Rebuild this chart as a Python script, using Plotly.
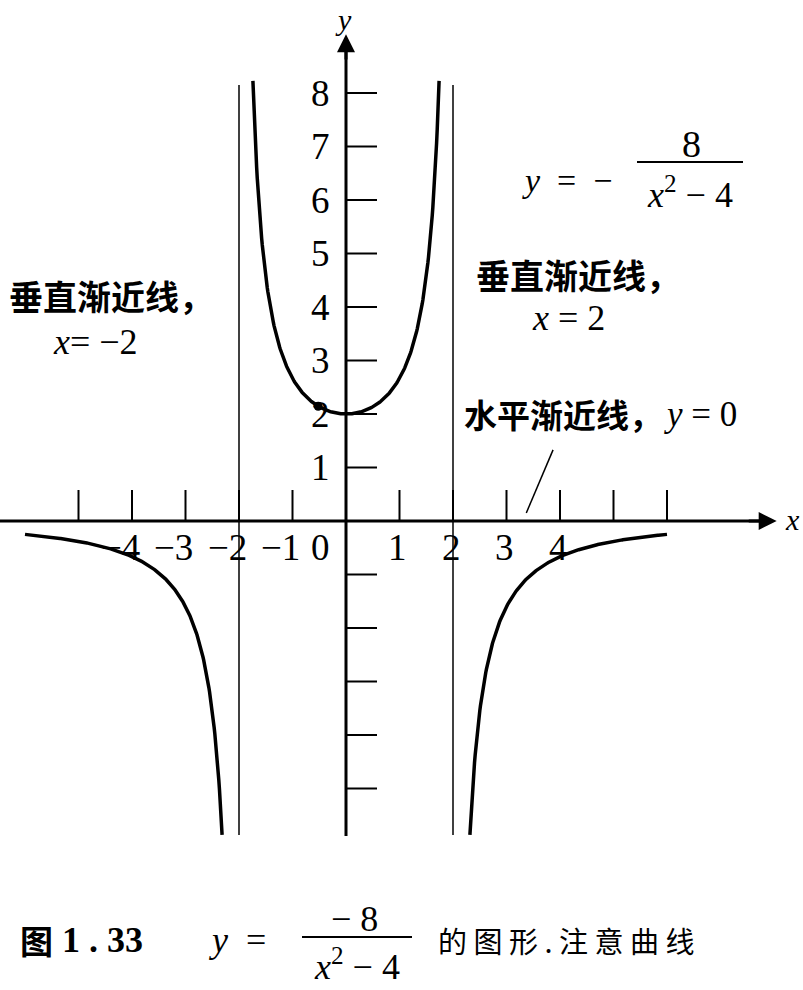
import numpy as np
import plotly.graph_objects as go

# ---- data ----
branch_left = [-6.0, -2.316]     # x-extent of left branch
branch_mid = [-1.74, 1.74]       # x-extent of middle branch
branch_right = [2.316, 6.0]      # x-extent of right branch
asymptotes_x = [-2, 2]
asym_y = [-5.87, 8.15]
x_ticks = [-5, -4, -3, -2, -1, 1, 2, 3, 4, 5, 6]
x_labels_vals = [-4, -3, -2, -1, 0, 1, 2, 3, 4]
x_labels_text = ["−4", "−3", "−2", "−1", "0", "1", "2", "3", "4"]
y_ticks = [-5, -4, -3, -2, -1, 1, 2, 3, 4, 5, 6, 7, 8]
y_labels_vals = [1, 2, 3, 4, 5, 6, 7, 8]
dot_x = [-0.52]

def f(x):
    return -8.0 / (x ** 2 - 4.0)

W, H = 803, 990
PX = 53.5
X0, Y0 = 346, 521
xr = [-X0 / PX, (W - X0) / PX]
yr = [-(H - Y0) / PX, Y0 / PX]

fig = go.Figure()
SERIF = "Liberation Serif"
CJK = "Noto Sans CJK SC"

# axes
fig.add_trace(go.Scatter(x=[xr[0], 7.9], y=[0, 0], mode="lines",
                         line=dict(color="black", width=3), hoverinfo="skip"))
fig.add_trace(go.Scatter(x=[0, 0], y=[-5.89, 9.0], mode="lines",
                         line=dict(color="black", width=3), hoverinfo="skip"))

# ticks
tl = 0.58
tx, ty = [], []
for v in x_ticks:
    tx += [v, v, None]
    ty += [0, tl, None]
fig.add_trace(go.Scatter(x=tx, y=ty, mode="lines",
                         line=dict(color="black", width=2), hoverinfo="skip"))
tx, ty = [], []
for v in y_ticks:
    tx += [0, tl, None]
    ty += [v, v, None]
fig.add_trace(go.Scatter(x=tx, y=ty, mode="lines",
                         line=dict(color="black", width=2), hoverinfo="skip"))

# asymptotes
for a in asymptotes_x:
    fig.add_trace(go.Scatter(x=[a, a], y=asym_y, mode="lines",
                             line=dict(color="black", width=1.5), hoverinfo="skip"))

# curve branches
for b in (branch_left, branch_mid, branch_right):
    xs = np.linspace(b[0], b[1], 300)
    fig.add_trace(go.Scatter(x=xs, y=f(xs), mode="lines",
                             line=dict(color="black", width=3.5), hoverinfo="skip"))

# dot
fig.add_trace(go.Scatter(x=dot_x, y=[f(v) for v in dot_x], mode="markers",
                         marker=dict(color="black", size=9), hoverinfo="skip"))

ann = []
# arrowheads
ann.append(dict(x=8.05, y=0, ax=7.5, ay=0, xref="x", yref="y", axref="x", ayref="y",
                showarrow=True, arrowhead=2, arrowwidth=3, arrowsize=1.2,
                arrowcolor="black", text=""))
ann.append(dict(x=0, y=9.1, ax=0, ay=8.6, xref="x", yref="y", axref="x", ayref="y",
                showarrow=True, arrowhead=2, arrowwidth=3, arrowsize=1.2,
                arrowcolor="black", text=""))

# tick labels
for v, t in zip(x_labels_vals, x_labels_text):
    if v == 0:
        ann.append(dict(x=-0.47, y=-0.5, xref="x", yref="y", text=t, showarrow=False,
                        xanchor="center", yanchor="middle",
                        font=dict(family=SERIF, size=37, color="black")))
    else:
        ann.append(dict(x=v + 0.18, y=-0.5, xref="x", yref="y", text=t, showarrow=False,
                        xanchor="right", yanchor="middle",
                        font=dict(family=SERIF, size=37, color="black")))
for v in y_labels_vals:
    ann.append(dict(x=-0.47, y=v, xref="x", yref="y", text=str(v), showarrow=False,
                    xanchor="center", yanchor="middle",
                    font=dict(family=SERIF, size=37, color="black")))

def P(px, py, text, size=26, family=SERIF, xanchor="left", color="black"):
    ann.append(dict(x=px / W, y=1 - py / H, xref="paper", yref="paper", text=text,
                    showarrow=False, xanchor=xanchor, yanchor="middle",
                    font=dict(family=family, size=size, color=color)))

# axis letters
P(343, 19, "<i>y</i>", 30, xanchor="center")
P(792, 519, "<i>x</i>", 30, xanchor="center")

# formula top-right
P(520, 180, "<i>y</i>  =  −", 34)
P(691, 144, "8", 38, xanchor="center")
P(690, 192, "<i>x</i><sup>2</sup> − 4", 36, xanchor="center")

# labels
P(474, 274, "<b>垂直渐近线，</b>", 34, CJK)
P(568, 318, "<i>x</i> = 2", 36, xanchor="center")
P(7, 296, "<b>垂直渐近线，</b>", 34, CJK)
P(95, 342, "<i>x</i>= −2", 36, xanchor="center")
P(462, 414, "<b>水平渐近线，</b>", 33, CJK)
P(662, 414, "<i>y</i> = 0", 35)

# caption
P(18, 940, "<b>图</b>", 33, CJK)
P(60, 940, "<b>1 . 33</b>", 36)
P(207, 940, "<i>y</i>  =", 36)
P(354, 919, "− 8", 36, xanchor="center")
P(357, 964, "<i>x</i><sup>2</sup> − 4", 36, xanchor="center")
P(436, 940, "的 图 形 . 注 意 曲 线", 29, CJK)

shapes = [
    dict(type="line", xref="paper", yref="paper", x0=637 / W, x1=743 / W,
         y0=1 - 162 / H, y1=1 - 162 / H, line=dict(color="black", width=2)),
    dict(type="line", xref="paper", yref="paper", x0=302 / W, x1=412 / W,
         y0=1 - 937 / H, y1=1 - 937 / H, line=dict(color="black", width=2)),
    dict(type="line", xref="x", yref="y", x0=3.87, y0=1.33, x1=3.37, y1=0.15,
         line=dict(color="black", width=1.5)),
]

fig.update_layout(
    width=W, height=H, margin=dict(l=0, r=0, t=0, b=0),
    paper_bgcolor="white", plot_bgcolor="white", showlegend=False,
    xaxis=dict(range=xr, visible=False, fixedrange=True),
    yaxis=dict(range=yr, visible=False, fixedrange=True),
    annotations=ann, shapes=shapes,
)
fig.write_html("out.html", config={"displayModeBar": False},
               post_script="document.body.style.margin='0px';")
